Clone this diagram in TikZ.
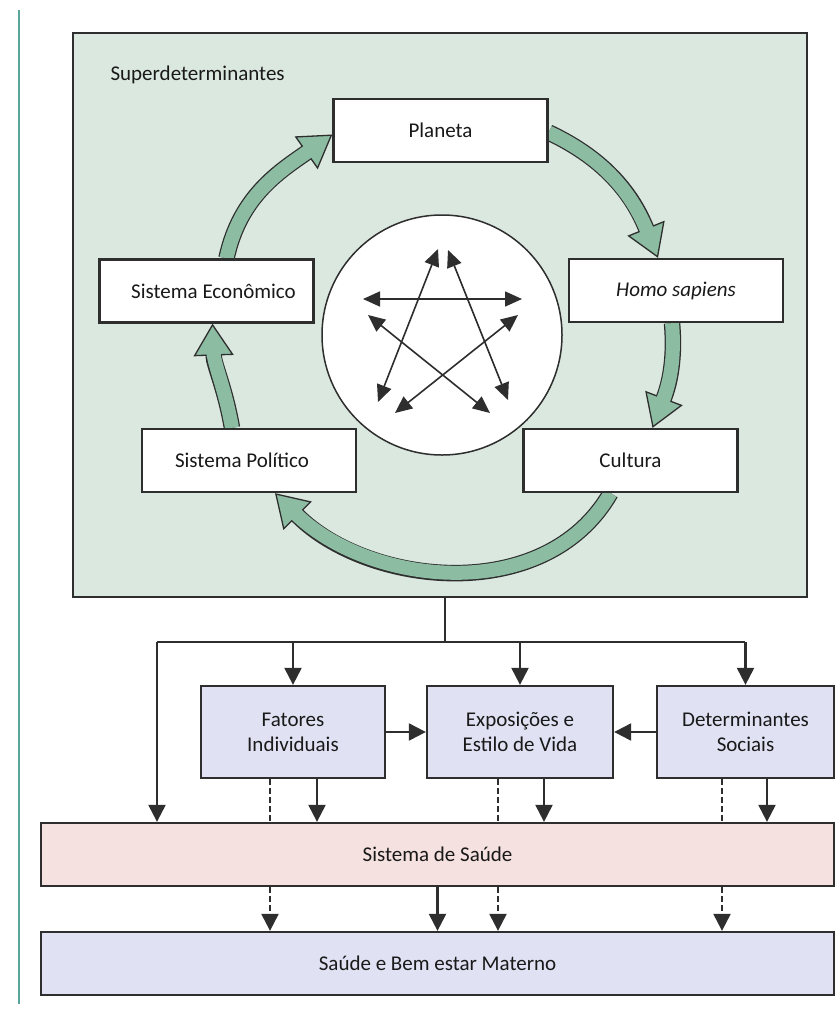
\documentclass[tikz,border=0pt]{standalone}
\usepackage{fontspec}
\setmainfont{Carlito}
\usetikzlibrary{arrows.meta}
\definecolor{panelgreen}{HTML}{DBE8E0}
\definecolor{arrowgreen}{HTML}{8CBCA2}
\definecolor{darkline}{HTML}{2E2E2E}
\definecolor{pinkbox}{HTML}{F5E1DF}
\definecolor{bluebox}{HTML}{E0E2F3}
\definecolor{tealline}{HTML}{5AA59C}
\pgfdeclarelayer{bg}
\pgfdeclarelayer{mid}
\pgfsetlayers{bg,mid,main}
\newcommand\fatarrow[1]{%
  \draw[line width=16.5pt, draw=darkline, -{Triangle[length=32pt,width=40pt,line width'=1.3pt,fill=arrowgreen]}] #1;
  \draw[line width=14pt, draw=arrowgreen, shorten >=28pt] #1;}
\begin{document}
\begin{tikzpicture}[x=1pt,y=1pt,
  every node/.style={font=\fontsize{21}{25}\selectfont, text=black!90},
  box/.style={draw=darkline, line width=2.3pt, inner sep=0pt, align=center},
  whitebox/.style={box, fill=white, minimum width=214pt, minimum height=63pt},
  lowbox/.style={box, fill=bluebox, minimum height=92pt},
  widebox/.style={box, minimum width=793pt, minimum height=63pt},
  conn/.style={line width=2.2pt, draw=darkline, -{Triangle[length=17pt,width=17pt]}},
  plainline/.style={line width=2.2pt, draw=darkline},
  dashline/.style={line width=2.2pt, draw=darkline, dash pattern=on 6pt off 3pt},
  dasharrow/.style={dashline, -{Triangle[length=17pt,width=17pt]}},
  starrow/.style={line width=1.6pt, draw=darkline, {Triangle[length=17pt,width=15pt]}-{Triangle[length=17pt,width=15pt]}}
]
\useasboundingbox (0,0) rectangle (838,-1012);
\draw[tealline, line width=1.5pt] (19,-10) -- (19,-1004);

\begin{pgfonlayer}{bg}
\node[draw=darkline, line width=2.4pt, fill=panelgreen, minimum width=734pt, minimum height=564pt, inner sep=0pt] (panel) at (440,-315) {};
\end{pgfonlayer}

\node[anchor=base west] (superdet) at (107,-80) {Superdeterminantes};

\node[whitebox] (planeta) at (440.5,-130.5) {Planeta};
\node[whitebox] (homo) at (676,-290.5) {\itshape Homo sapiens};
\node[whitebox] (econ) at (206.5,-291) {\hspace*{14pt}Sistema Econômico};
\node[whitebox] (politico) at (249,-460.5) {Sistema Político\hspace*{14pt}};
\node[whitebox] (cultura) at (630.5,-460.5) {Cultura};

\node[draw=darkline, line width=1.5pt, fill=white, circle, minimum size=240pt, inner sep=0pt] (circ) at (442,-335) {};

\begin{pgfonlayer}{mid}
\fatarrow{([xshift=20pt]econ.north) to[out=78,in=215] ([yshift=-4pt]planeta.west)}
\fatarrow{([yshift=-2pt]planeta.east) to[out=-25,in=112] ([xshift=-18pt]homo.north)}
\fatarrow{([xshift=-4pt]homo.south) to[out=-85,in=69] ([xshift=22pt]cultura.north)}
\fatarrow{([xshift=-20pt]cultura.south) to[out=240,in=-45] ([xshift=26pt]politico.south)}
\fatarrow{([xshift=-17pt]politico.north) to[out=100,in=-88] ([xshift=6pt]econ.south)}
\end{pgfonlayer}

% pentagram arrows
\coordinate (s1a) at (363,-299); \coordinate (s1b) at (522,-299);
\coordinate (s2a) at (438,-249); \coordinate (s2b) at (378,-402);
\coordinate (s3a) at (448,-250); \coordinate (s3b) at (508,-400);
\coordinate (s4a) at (368,-315); \coordinate (s4b) at (490,-413);
\coordinate (s5a) at (518,-315); \coordinate (s5b) at (395,-413);
\draw[starrow] (s1a) -- (s1b);
\draw[starrow] (s2a) -- (s2b);
\draw[starrow] (s3a) -- (s3b);
\draw[starrow] (s4a) -- (s4b);
\draw[starrow] (s5a) -- (s5b);

% lower part
\node[lowbox, minimum width=184pt] (fatores) at (293,-732) {Fatores\\Individuais};
\node[lowbox, minimum width=186pt] (expos) at (520,-732) {Exposições e\\Estilo de Vida};
\node[lowbox, minimum width=177pt] (determ) at (745.5,-732) {Determinantes\\Sociais};
\node[widebox, fill=pinkbox] (sistema) at (437.5,-854.5) {Sistema de Saúde};
\node[widebox, fill=bluebox] (saude) at (437.5,-963.5) {Saúde e Bem estar Materno};

\coordinate (j) at (445,-642);
\coordinate (hl) at (157,-642);
\coordinate (hr) at (745,-642);
\draw[plainline] (panel.south -| j) -- (j);
\draw[plainline] (hl) -- (hr);
\draw[conn] (hl) -- (hl |- sistema.north);
\draw[conn] (fatores.north |- hl) -- (fatores.north);
\draw[conn] (expos.north |- hl) -- (expos.north);
\draw[conn] (determ.north |- hl) -- (determ.north);
\draw[conn] (fatores.east) -- (expos.west);
\draw[conn] (determ.west) -- (expos.east);

\coordinate (fd) at ([xshift=-23pt]fatores.south);
\coordinate (fs) at ([xshift=24pt]fatores.south);
\coordinate (ed) at ([xshift=-22pt]expos.south);
\coordinate (es) at ([xshift=24pt]expos.south);
\coordinate (dd) at ([xshift=-23.5pt]determ.south);
\coordinate (ds) at ([xshift=21.5pt]determ.south);
\draw[dashline] (fd) -- (fd |- sistema.north);
\draw[conn] (fs) -- (fs |- sistema.north);
\draw[dashline] (ed) -- (ed |- sistema.north);
\draw[conn] (es) -- (es |- sistema.north);
\draw[dashline] (dd) -- (dd |- sistema.north);
\draw[conn] (ds) -- (ds |- sistema.north);

\draw[dasharrow] (fd |- sistema.south) -- (fd |- saude.north);
\draw[conn] (sistema.south) -- (saude.north);
\draw[dasharrow] (ed |- sistema.south) -- (ed |- saude.north);
\draw[dasharrow] (dd |- sistema.south) -- (dd |- saude.north);
\end{tikzpicture}
\end{document}
